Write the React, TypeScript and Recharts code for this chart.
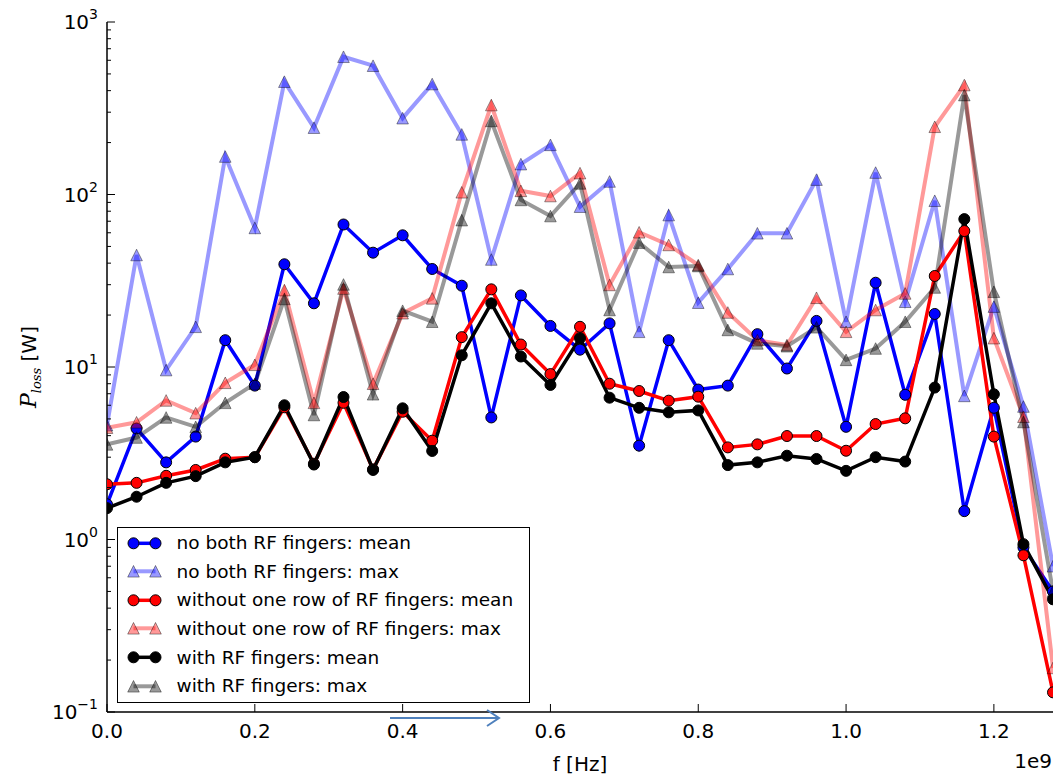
import React from 'react';
import { LineChart, Line, XAxis, YAxis, Legend } from 'recharts';

// ---------- data ----------
const FREQ_HZ = [
  0.0e9, 0.04e9, 0.08e9, 0.12e9, 0.16e9, 0.2e9, 0.24e9, 0.28e9, 0.32e9, 0.36e9, 0.4e9,
  0.44e9, 0.48e9, 0.52e9, 0.56e9, 0.6e9, 0.64e9, 0.68e9, 0.72e9, 0.76e9, 0.8e9, 0.84e9,
  0.88e9, 0.92e9, 0.96e9, 1.0e9, 1.04e9, 1.08e9, 1.12e9, 1.16e9, 1.2e9, 1.24e9, 1.28e9,
];

const NO_BOTH_MEAN = [
  1.6, 4.4, 2.8, 3.95, 14.3, 7.8, 39.4, 23.4, 67, 46, 58, 37, 29.6, 5.1, 26, 17.3, 12.6,
  17.9, 3.5, 14.3, 7.4, 7.8, 15.5, 9.8, 18.5, 4.5, 30.8, 6.9, 20.3, 1.46, 5.8, 0.9, 0.5,
];
const NO_BOTH_MAX = [
  4.6, 44.6, 9.6, 17.1, 166, 64, 451, 244, 629, 558, 277, 437, 223, 42, 150, 194, 85,
  119, 16, 76, 23.6, 37, 59.6, 59.6, 122, 18.3, 134, 23.9, 92, 6.8, 22.4, 5.9, 0.7,
];
const ONE_ROW_MEAN = [
  2.09, 2.13, 2.34, 2.53, 2.94, 3.0, 5.84, 2.75, 6.2, 2.55, 5.5, 3.74, 14.9, 28.2, 13.5,
  9.1, 17.1, 8.0, 7.26, 6.38, 6.73, 3.42, 3.56, 3.98, 3.98, 3.27, 4.67, 5.04, 33.7, 61.4,
  3.95, 0.81, 0.13,
];
const ONE_ROW_MAX = [
  4.45, 4.78, 6.4, 5.4, 8.1, 10.3, 27.9, 6.2, 28.5, 8.0, 20.5, 25, 103, 330, 105, 98, 133,
  29.9, 60.4, 51, 39, 20.7, 14.3, 13.4, 25.2, 16, 21.4, 26.7, 247, 431, 14.7, 5.15, 0.18,
];
const WITH_MEAN = [
  1.52, 1.77, 2.13, 2.33, 2.8, 3.0, 6.0, 2.72, 6.7, 2.53, 5.76, 3.26, 11.7, 23.4, 11.5,
  7.87, 14.7, 6.64, 5.8, 5.46, 5.6, 2.7, 2.8, 3.06, 2.93, 2.5, 3.0, 2.83, 7.6, 72, 6.95,
  0.94, 0.45,
];
const WITH_MAX = [
  3.56, 3.9, 5.1, 4.5, 6.2, 8.0, 24.8, 5.27, 30.1, 6.95, 21.2, 18.3, 71, 267, 93, 75, 116,
  21.4, 52.6, 38, 38.5, 16.4, 13.7, 13.2, 17, 11, 12.8, 18.3, 28.9, 377, 27.3, 4.8, 0.5,
];

const X_TICKS = [0, 0.2e9, 0.4e9, 0.6e9, 0.8e9, 1.0e9, 1.2e9];
const Y_MAJOR = [0.1, 1, 10, 100, 1000];
const Y_MINOR = [
  0.2, 0.3, 0.4, 0.5, 0.6, 0.7, 0.8, 0.9,
  2, 3, 4, 5, 6, 7, 8, 9,
  20, 30, 40, 50, 60, 70, 80, 90,
  200, 300, 400, 500, 600, 700, 800, 900,
];
const Y_TICKS = [...Y_MAJOR, ...Y_MINOR];

const SERIES = [
  { key: 'noBothMean', name: 'no both RF fingers: mean', color: '#0000ff', kind: 'mean' },
  { key: 'noBothMax', name: 'no both RF fingers: max', color: '#0000ff', kind: 'max' },
  { key: 'oneRowMean', name: 'without one row of RF fingers: mean', color: '#ff0000', kind: 'mean' },
  { key: 'oneRowMax', name: 'without one row of RF fingers: max', color: '#ff0000', kind: 'max' },
  { key: 'withMean', name: 'with RF fingers: mean', color: '#000000', kind: 'mean' },
  { key: 'withMax', name: 'with RF fingers: max', color: '#000000', kind: 'max' },
];

const rows = FREQ_HZ.map((f, i) => ({
  f,
  noBothMean: NO_BOTH_MEAN[i],
  noBothMax: NO_BOTH_MAX[i],
  oneRowMean: ONE_ROW_MEAN[i],
  oneRowMax: ONE_ROW_MAX[i],
  withMean: WITH_MEAN[i],
  withMax: WITH_MAX[i],
}));

// ---------- styling helpers ----------
const FONT = "'DejaVu Sans', 'Bitstream Vera Sans', sans-serif";
const ALPHA = 0.4;

const Tri = ({ cx, cy, color, s = 5.8 }: any) => {
  if (cx == null || cy == null) return null;
  return (
    <path
      d={`M${cx},${cy - s}L${cx - s},${cy + s}L${cx + s},${cy + s}Z`}
      fill={color}
      fillOpacity={ALPHA}
      stroke="#000"
      strokeOpacity={ALPHA}
      strokeWidth={1}
    />
  );
};

const XTickBottom = (p: any) => {
  const { x, y, payload } = p;
  return (
    <g>
      <line x1={x} y1={y} x2={x} y2={y - 8} stroke="#000" strokeWidth={1} />
      <text x={x} y={y + 26} textAnchor="middle" fontFamily={FONT} fontSize={20} fill="#000">
        {(payload.value / 1e9).toFixed(1)}
      </text>
    </g>
  );
};

const XTickTop = (p: any) => {
  const { x, y } = p;
  return <line x1={x} y1={y} x2={x} y2={y + 8} stroke="#000" strokeWidth={1} />;
};

const isMajor = (v: number) => Y_MAJOR.includes(v);

const YTickLeft = (p: any) => {
  const { x, y, payload } = p;
  const v = payload.value;
  const major = isMajor(v);
  const exp = Math.round(Math.log10(v));
  return (
    <g>
      <line x1={x} y1={y} x2={x + (major ? 8 : 4)} y2={y} stroke="#000" strokeWidth={1} />
      {major && (
        <text x={x - 9} y={y + 7} textAnchor="end" fontFamily={FONT} fontSize={20} fill="#000">
          10
          <tspan fontSize={14} dy={-10}>{exp < 0 ? `\u2212${-exp}` : `${exp}`}</tspan>
        </text>
      )}
    </g>
  );
};

const YTickRight = (p: any) => {
  const { x, y, payload } = p;
  const major = isMajor(payload.value);
  return <line x1={x} y1={y} x2={x - (major ? 8 : 4)} y2={y} stroke="#000" strokeWidth={1} />;
};

const XLabel = (p: any) => {
  const vb = p.viewBox || {};
  return (
    <g>
      <text x={vb.x + vb.width / 2} y={vb.y + 59} textAnchor="middle" fontFamily={FONT} fontSize={20} fill="#000">
        f [Hz]
      </text>
      <text x={vb.x + vb.width - 1} y={vb.y + 56} textAnchor="end" fontFamily={FONT} fontSize={20} fill="#000">
        1e9
      </text>
    </g>
  );
};

const YLabel = (p: any) => {
  const vb = p.viewBox || {};
  const cx = vb.x + 36;
  const cy = vb.y + vb.height / 2;
  return (
    <text transform={`translate(${cx},${cy}) rotate(-90)`} textAnchor="middle" fontFamily={FONT} fontSize={20} fill="#000">
      <tspan fontFamily="'DejaVu Serif', serif" fontStyle="italic" fontSize={22}>P</tspan>
      <tspan fontFamily="'DejaVu Serif', serif" fontStyle="italic" fontSize={13} dy={5}>loss</tspan>
      <tspan dy={-5}>{' [W]'}</tspan>
    </text>
  );
};

const LegendBox = () => (
  <div
    style={{
      width: 413,
      height: 176,
      border: '1.5px solid #000',
      boxSizing: 'border-box',
      background: '#fff',
      fontFamily: FONT,
      fontSize: 18.5,
      color: '#000',
      position: 'relative',
    }}
  >
    {SERIES.map((s, i) => (
      <div
        key={s.key}
        style={{
          position: 'absolute',
          left: 0,
          top: 0.5 + i * 28.6,
          height: 28.6,
          display: 'flex',
          alignItems: 'center',
          whiteSpace: 'nowrap',
        }}
      >
        <svg width={56} height={28.6} style={{ display: 'block' }}>
          <line
            x1={15.5}
            x2={37.5}
            y1={14.3}
            y2={14.3}
            stroke={s.color}
            strokeWidth={s.kind === 'mean' ? 3.5 : 4}
            strokeOpacity={s.kind === 'mean' ? 1 : ALPHA}
          />
          {s.kind === 'mean' ? (
            <>
              <circle cx={15.5} cy={14.3} r={5.5} fill={s.color} stroke="#000" strokeWidth={1} />
              <circle cx={37.5} cy={14.3} r={5.5} fill={s.color} stroke="#000" strokeWidth={1} />
            </>
          ) : (
            <>
              <Tri cx={15.5} cy={14.3} color={s.color} />
              <Tri cx={37.5} cy={14.3} color={s.color} />
            </>
          )}
        </svg>
        <span style={{ marginLeft: 2.5 }}>{s.name}</span>
      </div>
    ))}
  </div>
);

export default function App() {
  return (
    <div style={{ position: 'absolute', left: 0, top: 0, width: 1053, height: 777, background: '#fff', overflow: 'hidden' }}>
      <LineChart width={1053} height={777} data={rows} margin={{ top: 22, right: 0, bottom: 0, left: 0 }}>
        <XAxis
          xAxisId="b"
          dataKey="f"
          type="number"
          domain={[0, 1.28e9]}
          ticks={X_TICKS}
          interval={0}
          allowDataOverflow
          height={65}
          tickSize={0}
          tickMargin={0}
          tickLine={false}
          tick={<XTickBottom />}
          axisLine={{ stroke: '#000', strokeWidth: 1.5 }}
          label={(p: any) => <XLabel {...p} />}
        />
        <XAxis
          xAxisId="t"
          orientation="top"
          dataKey="f"
          type="number"
          domain={[0, 1.28e9]}
          ticks={X_TICKS}
          interval={0}
          allowDataOverflow
          height={0}
          tickSize={0}
          tickMargin={0}
          tickLine={false}
          tick={<XTickTop />}
          axisLine={{ stroke: '#000', strokeWidth: 1.5 }}
        />
        <YAxis
          yAxisId="l"
          type="number"
          scale="log"
          domain={[0.1, 1000]}
          ticks={Y_TICKS}
          interval={0}
          allowDataOverflow
          width={107}
          tickSize={0}
          tickMargin={0}
          tickLine={false}
          tick={<YTickLeft />}
          axisLine={{ stroke: '#000', strokeWidth: 1.5 }}
          label={(p: any) => <YLabel {...p} />}
        />
        <YAxis
          yAxisId="r"
          orientation="right"
          type="number"
          scale="log"
          domain={[0.1, 1000]}
          ticks={Y_TICKS}
          interval={0}
          allowDataOverflow
          width={0}
          tickSize={0}
          tickMargin={0}
          tickLine={false}
          tick={<YTickRight />}
          axisLine={{ stroke: '#000', strokeWidth: 1.5 }}
        />
        {SERIES.map((s) =>
          s.kind === 'mean' ? (
            <Line
              key={s.key}
              xAxisId="b"
              yAxisId="l"
              type="linear"
              dataKey={s.key}
              name={s.name}
              stroke={s.color}
              strokeWidth={3.5}
              dot={{ r: 5.5, fill: s.color, stroke: '#000', strokeWidth: 1, fillOpacity: 1, strokeOpacity: 1 }}
              activeDot={false}
              isAnimationActive={false}
            />
          ) : (
            <Line
              key={s.key}
              xAxisId="b"
              yAxisId="l"
              type="linear"
              dataKey={s.key}
              name={s.name}
              stroke={s.color}
              strokeOpacity={ALPHA}
              strokeWidth={4}
              dot={(p: any) => <Tri key={`${s.key}-${p.index}`} cx={p.cx} cy={p.cy} color={s.color} />}
              activeDot={false}
              isAnimationActive={false}
            />
          )
        )}
        <Legend
          layout="vertical"
          align="center"
          verticalAlign="middle"
          wrapperStyle={{ position: 'absolute', left: 117, top: 527, width: 413, height: 176 }}
          content={() => <LegendBox />}
        />
      </LineChart>
      <svg
        width={1053}
        height={777}
        style={{ position: 'absolute', left: 0, top: 0, pointerEvents: 'none' }}
      >
        <line x1={390} y1={718} x2={499} y2={718} stroke="#4f81bd" strokeWidth={2} />
        <polyline points="487,710 499,718 487,726" fill="none" stroke="#4f81bd" strokeWidth={2} />
      </svg>
    </div>
  );
}
